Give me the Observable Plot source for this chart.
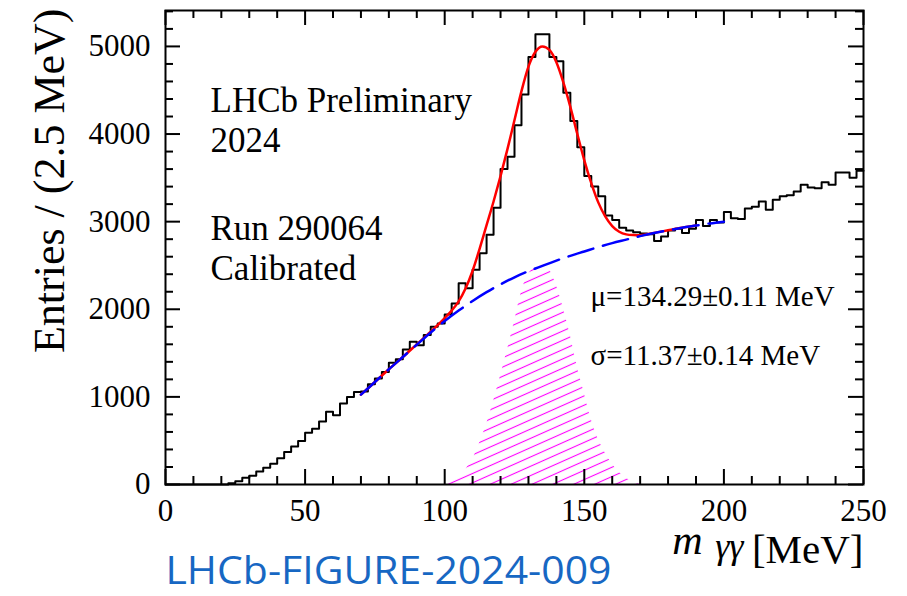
<!DOCTYPE html>
<html>
<head>
<meta charset="utf-8">
<script src="https://cdn.jsdelivr.net/npm/d3@7"></script>
<script src="https://cdn.jsdelivr.net/npm/@observablehq/plot@0.6"></script>
<style>
  html, body { margin: 0; padding: 0; background: #fff; }
  #chart svg { display: block; }
</style>
</head>
<body>
<div id="chart"></div>
<script>
// Diphoton invariant mass, 2.5 MeV bins from 0 to 250 MeV
const binWidth = 2.5;
const entries = [
  0, 0, 0, 0, 0, 0, 0, 0, 0, 15,
  38, 76, 99, 149, 191, 236, 300, 370, 435, 496,
  590, 637, 720, 830, 790, 925, 999, 1056, 1062, 1144,
  1209, 1285, 1390, 1430, 1541, 1628, 1590, 1705, 1800, 1838,
  1940, 2067, 2296, 2239, 2450, 2639, 2850, 3160, 3600, 3740,
  4100, 4450, 4880, 5140, 5140, 4880, 4830, 4470, 4150, 3850,
  3520, 3400, 3290, 3070, 3020, 2930, 2900, 2880, 2865, 2855,
  2780, 2830, 2900, 2920, 2870, 2920, 3020, 2950, 3020, 2990,
  3110, 3040, 3030, 3150, 3170, 3230, 3135, 3250, 3290, 3300,
  3345, 3420, 3390, 3380, 3450, 3420, 3560, 3560, 3500, 3580
];

// Total fit (signal + background)
const fitMass = [70, 75, 80, 85, 90, 95, 100, 102.5, 105, 107.5, 110, 112.5, 115, 117.5,
  120, 122.5, 125, 127.5, 130, 132.5, 135, 137.5, 140, 142.5, 145, 147.5, 150, 152.5,
  155, 157.5, 160, 162.5, 165, 167.5, 170, 175, 180, 185, 190];
const fitTotal = [1025, 1170, 1315, 1455, 1600, 1745, 1900, 1985, 2090, 2240, 2440, 2690, 2960, 3230,
  3520, 3830, 4160, 4490, 4770, 4940, 5000, 4960, 4820, 4590, 4310, 4000, 3700, 3440,
  3220, 3060, 2950, 2885, 2855, 2847, 2845, 2872, 2902, 2931, 2956];

// Background component
const bkgMass = [70, 75, 80, 85, 90, 95, 100, 105, 110, 115, 120, 125, 130, 135, 140,
  145, 150, 155, 160, 165, 170, 175, 180, 185, 190, 195, 200];
const bkgValues = [1025, 1170, 1315, 1455, 1595, 1735, 1865, 1985, 2095, 2195, 2285, 2365, 2435, 2495, 2555,
  2610, 2660, 2710, 2755, 2795, 2835, 2870, 2900, 2930, 2955, 2980, 3000];

// Signal component
const sigMass = [100, 102.5, 105, 107.5, 110, 112.5, 115, 117.5, 120, 122.5, 125, 127.5, 130, 132.5,
  135, 137.5, 140, 142.5, 145, 147.5, 150, 152.5, 155, 157.5, 160, 162.5, 165, 167.5, 170];
const sigValues = [0, 25, 90, 170, 290, 470, 690, 950, 1240, 1540, 1860, 2200, 2400, 2480,
  2510, 2450, 2270, 2010, 1700, 1340, 1040, 740, 520, 360, 230, 140, 70, 30, 0];

const xLabels = [0, 50, 100, 150, 200, 250];
const yLabels = [0, 1000, 2000, 3000, 4000, 5000];
const xMinor = d3.range(0, 251, 10).filter(v => v % 50 !== 0);
const yMinor = d3.range(0, 5401, 200).filter(v => v % 1000 !== 0);

const figureId = "LHCb-FIGURE-2024-009";

const W = 907, H = 596;
const mL = 165, mR = 44, mT = 10, mB = 112;
const innerW = W - mL - mR, innerH = H - mT - mB;
const major = 15, minor = 8;

const histPoints = entries.map((v, i) => ({m: i * binWidth, n: v}));
histPoints.push({m: entries.length * binWidth, n: entries[entries.length - 1]});
const fitPoints = fitMass.map((m, i) => ({m, n: fitTotal[i]}));
const bkgPoints = bkgMass.map((m, i) => ({m, n: bkgValues[i]}));
const sigPoints = sigMass.map((m, i) => ({m, n: sigValues[i]}));

const serif = '"Liberation Serif", "DejaVu Serif", serif';
const note = (s, o) => Plot.text([s], {text: d => d, frameAnchor: "top-left", textAnchor: "start", lineAnchor: "middle", fill: "black", ...o});

const chart = Plot.plot({
  width: W, height: H,
  marginLeft: mL, marginRight: mR, marginTop: mT, marginBottom: mB,
  x: {domain: [0, 250], axis: null},
  y: {domain: [0, 5410], axis: null},
  style: {fontFamily: serif, background: "white", color: "black", overflow: "visible"},
  marks: [
    Plot.areaY(sigPoints, {x: "m", y: "n", fill: "url(#sigHatch)", curve: "monotone-x"}),
    Plot.line(histPoints, {x: "m", y: "n", curve: "step-after", stroke: "black", strokeWidth: 2}),
    Plot.line(fitPoints, {x: "m", y: "n", curve: "monotone-x", stroke: "#ff0000", strokeWidth: 2.5}),
    Plot.line(bkgPoints, {x: "m", y: "n", curve: "monotone-x", stroke: "#0000ff", strokeWidth: 2.5, strokeDasharray: "26,10"}),
    Plot.frame({stroke: "black", strokeWidth: 2}),
    // inward ticks on all four sides
    Plot.tickY(yLabels, {y: d => d, insetRight: innerW - major, stroke: "black", strokeWidth: 2}),
    Plot.tickY(yMinor, {y: d => d, insetRight: innerW - minor, stroke: "black", strokeWidth: 2}),
    Plot.tickY(yLabels, {y: d => d, insetLeft: innerW - major, stroke: "black", strokeWidth: 2}),
    Plot.tickY(yMinor, {y: d => d, insetLeft: innerW - minor, stroke: "black", strokeWidth: 2}),
    Plot.tickX(xLabels, {x: d => d, insetTop: innerH - major, stroke: "black", strokeWidth: 2}),
    Plot.tickX(xMinor, {x: d => d, insetTop: innerH - minor, stroke: "black", strokeWidth: 2}),
    Plot.tickX(xLabels, {x: d => d, insetBottom: innerH - major, stroke: "black", strokeWidth: 2}),
    Plot.tickX(xMinor, {x: d => d, insetBottom: innerH - minor, stroke: "black", strokeWidth: 2}),
    // tick labels
    Plot.text(yLabels, {y: d => d, text: d => String(d), frameAnchor: "left", dx: -15, textAnchor: "end", lineAnchor: "middle", fontSize: 31, fill: "black"}),
    Plot.text(xLabels, {x: d => d, text: d => String(d), frameAnchor: "bottom", dy: 27, textAnchor: "middle", lineAnchor: "middle", fontSize: 31, fill: "black"}),
    // axis titles
    Plot.text(["Entries / (2.5 MeV)"], {text: d => d, frameAnchor: "top-left", dx: -116, dy: -2, rotate: -90, textAnchor: "end", lineAnchor: "middle", fontSize: 44, fill: "black"}),
    Plot.text(["[MeV]"], {text: d => d, frameAnchor: "bottom-right", dx: 0, dy: 65, textAnchor: "end", lineAnchor: "middle", fontSize: 41, fill: "black"}),
    Plot.text(["γγ"], {text: d => d, frameAnchor: "bottom-right", dx: -120, dy: 62, textAnchor: "end", lineAnchor: "middle", fontSize: 36, fontStyle: "italic", fill: "black"}),
    Plot.text(["m"], {text: d => d, frameAnchor: "bottom-right", dx: -161, dy: 56, textAnchor: "end", lineAnchor: "middle", fontSize: 42, fontStyle: "italic", fill: "black"}),
    // annotations
    note("LHCb Preliminary", {dx: 45, dy: 90, fontSize: 35}),
    note("2024", {dx: 45, dy: 130, fontSize: 35}),
    note("Run 290064", {dx: 45, dy: 218, fontSize: 35}),
    note("Calibrated", {dx: 45, dy: 258, fontSize: 35}),
    note("μ=134.29±0.11 MeV", {dx: 425, dy: 286, fontSize: 29}),
    note("σ=11.37±0.14 MeV", {dx: 425, dy: 345, fontSize: 29}),
    Plot.text([figureId], {text: d => d, frameAnchor: "bottom-left", dx: 0, dy: 87, textAnchor: "start", lineAnchor: "middle", fontSize: 38, fontFamily: '"Open Sans", "Noto Sans", sans-serif', fill: "#1767c3"})
  ]
});

// hatch pattern for the signal component
const defs = d3.create("svg:defs");
const pat = defs.append("pattern")
  .attr("id", "sigHatch")
  .attr("patternUnits", "userSpaceOnUse")
  .attr("width", 10).attr("height", 8.5)
  .attr("patternTransform", "rotate(-24)");
pat.append("line")
  .attr("x1", 0).attr("y1", 4.25).attr("x2", 10).attr("y2", 4.25)
  .attr("stroke", "#ff00ff").attr("stroke-width", 1.1);
chart.insertBefore(defs.node(), chart.firstChild);

// stretch the figure reference to its full width
d3.select(chart).selectAll("text")
  .filter(function () { return this.textContent === figureId; })
  .attr("textLength", 446)
  .attr("lengthAdjust", "spacingAndGlyphs");

document.getElementById("chart").appendChild(chart);
</script>
</body>
</html>
